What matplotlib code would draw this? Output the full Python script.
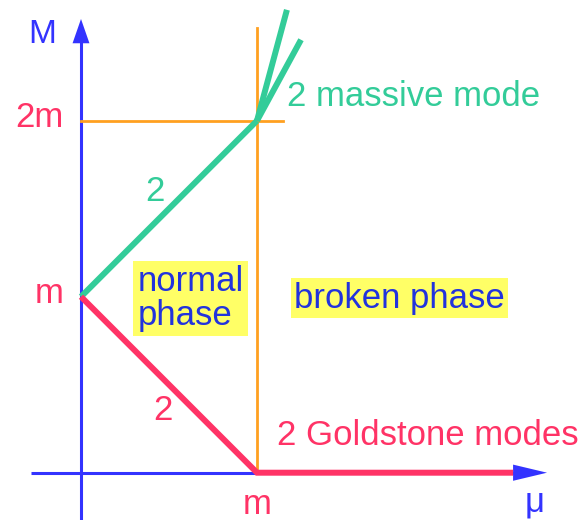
import matplotlib
matplotlib.use("Agg")
import matplotlib.pyplot as plt

# ---- data (in units of m) ----
green_mu = [0.0, 1.0]
green_M = [1.0, 2.0]
branch1_mu = [1.0, 1.17]
branch1_M = [2.0, 2.63]
branch2_mu = [1.0, 1.25]
branch2_M = [2.0, 2.46]
red_mu = [0.0, 1.0, 2.455]
red_M = [1.0, 0.0, 0.0]
orange_v_mu = [1.0, 1.0]
orange_v_M = [0.0, 2.527]
orange_h_mu = [0.0, 1.148]
orange_h_M = [2.0, 2.0]
y_ticks = [1.0, 2.0]
y_ticklabels = ["m", "2m"]
x_ticks = [1.0]
x_ticklabels = ["m"]

BLUE = "#3333ff"
TXTBLUE = "#2233dd"
GREEN = "#33cc99"
RED = "#ff3366"
ORANGE = "#ffa020"
YELLOW = "#ffff66"
FONT = "Liberation Sans"

fig = plt.figure(figsize=(5.88, 5.20), dpi=100)
ax = fig.add_axes([0, 0, 1, 1])
ax.set_xlim(-81 / 176, (588 - 81) / 176)
ax.set_ylim(-(520 - 472.7) / 176, 472.7 / 176)
ax.axis("off")

# axes (blue)
ax.plot([0, 0], [-0.3, 2.45], color=BLUE, lw=2.2, solid_capstyle="butt", zorder=1)
ax.plot([-0.284, 2.47], [0, 0], color=BLUE, lw=2.2, solid_capstyle="butt", zorder=1)
ax.fill([-0.048, 0.048, 0], [2.44, 2.44, 2.578], color=BLUE, lw=0, zorder=1)
ax.fill([2.455, 2.455, 2.648], [0.046, -0.046, 0], color=BLUE, lw=0, zorder=3)

# orange lines
ax.plot(orange_v_mu, orange_v_M, color=ORANGE, lw=2.0, zorder=2)
ax.plot(orange_h_mu, orange_h_M, color=ORANGE, lw=2.0, zorder=2)

# green
ax.plot(green_mu, green_M, color=GREEN, lw=4.3, solid_capstyle="butt", zorder=3)
ax.plot(branch1_mu, branch1_M, color=GREEN, lw=4.3, solid_capstyle="butt", zorder=3)
ax.plot(branch2_mu, branch2_M, color=GREEN, lw=4.3, solid_capstyle="butt", zorder=3)

# red
ax.plot(red_mu, red_M, color=RED, lw=4.3, solid_capstyle="butt",
        solid_joinstyle="miter", zorder=3)

fs = 25
# tick-like labels
for yv, lab in zip(y_ticks, y_ticklabels):
    ax.text(-0.098, yv + 0.02, lab, color=RED, fontsize=fs, family=FONT,
            ha="right", va="center")
for xv, lab in zip(x_ticks, x_ticklabels):
    ax.text(xv, -0.18, lab, color=RED, fontsize=fs, family=FONT,
            ha="center", va="center")

ax.text(-0.222, 2.49, "M", color=BLUE, fontsize=24, family=FONT,
        ha="center", va="center")
ax.text(2.58, -0.165, "\u03bc", color=BLUE, fontsize=fs, family=FONT,
        ha="center", va="center")

ax.text(0.42, 1.60, "2", color=GREEN, fontsize=fs, family=FONT,
        ha="center", va="center")
ax.text(0.466, 0.356, "2", color=RED, fontsize=fs, family=FONT,
        ha="center", va="center")
ax.text(1.17, 2.14, "2 massive mode", color=GREEN, fontsize=fs, family=FONT,
        ha="left", va="center")
ax.text(1.114, 0.214, "2 Goldstone modes", color=RED, fontsize=fs, family=FONT,
        ha="left", va="center")

ax.text(0.32, 0.99, "normal\nphase", color=TXTBLUE, fontsize=fs, family=FONT,
        ha="left", va="center", multialignment="left", linespacing=1.06,
        bbox=dict(boxstyle="square,pad=0.12", fc=YELLOW, ec="none"))
ax.text(1.81, 0.99, "broken phase", color=TXTBLUE, fontsize=fs, family=FONT,
        ha="center", va="center",
        bbox=dict(boxstyle="square,pad=0.1", fc=YELLOW, ec="none"))

fig.savefig("out.png", dpi=100)
